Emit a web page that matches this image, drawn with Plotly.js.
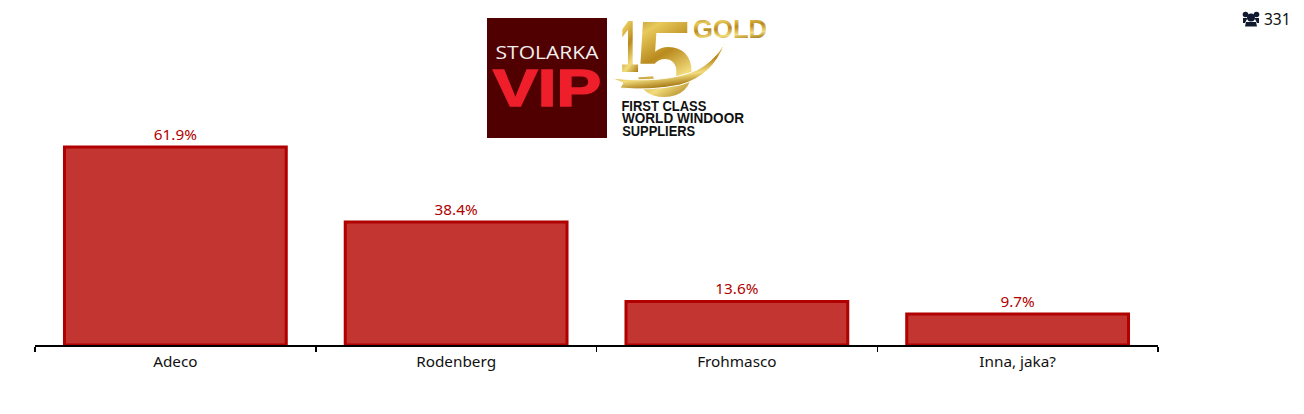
<!DOCTYPE html>
<html><head><meta charset="utf-8">
<script src="https://cdn.plot.ly/plotly-3.0.1.min.js"></script>
<style>html,body{margin:0;padding:0;background:#fff}#c{width:1304px;height:414px}</style>
</head><body><div id="c"></div>
<script>
const categories = ["Adeco", "Rodenberg", "Frohmasco", "Inna, jaka?"];
const percentages = [61.9, 38.4, 13.6, 9.7];
const percentLabels = ["61.9%", "38.4%", "13.6%", "9.7%"];
const voterCount = "331";

const FONT = "'Noto Sans', 'Open Sans', sans-serif";
const SANS = "'Liberation Sans', Arial, sans-serif";
const L = 35, R = 1158, T = 25, B = 345;
const px = x => (x - L) / (R - L);
const py = y => (B - y) / (B - T);
const P = (x, y) => px(x).toFixed(5) + "," + py(y).toFixed(5);
const poly = pts => "M" + pts.map(p => P(p[0], p[1])).join("L") + "Z";
const circle = (cx, cy, r, color) => ({type: "circle", xref: "paper", yref: "paper",
  x0: px(cx - r), x1: px(cx + r), y0: py(cy + r), y1: py(cy - r),
  fillcolor: color, line: {width: 0}});
const note = (text, x, y, size, color, family, weight, xanchor) => ({
  text, xref: "paper", yref: "paper", x: px(x), y: py(y), xanchor: xanchor || "center", yanchor: "middle",
  showarrow: false, font: {family: family || FONT, size, color, weight: weight || 400}});

const ICON = "#111a30";
const swoosh = {type: "path", xref: "paper", yref: "paper", fillcolor: "#c9a02a", layer: "above",
  line: {width: 1, color: "#ffffff"},
  path: "M" + P(611, 78) + "Q" + P(665, 84) + " " + P(697, 70) + "Q" + P(713, 62) + " " + P(725, 43)
      + "Q" + P(713, 76) + " " + P(680, 85) + "Q" + P(650, 91) + " " + P(620, 88) + "L" + P(623, 83) + "Z"};
const shapes = [
  {type: "rect", xref: "paper", yref: "paper", x0: px(487), x1: px(607), y0: py(138), y1: py(18),
   fillcolor: "#500000", line: {width: 0}, layer: "below"},
  swoosh,
  circle(1251, 17.5, 4, ICON), circle(1245.5, 14.5, 2.8, ICON), circle(1256.5, 14.5, 2.8, ICON),
  {type: "path", xref: "paper", yref: "paper", fillcolor: ICON, line: {width: 0},
   path: poly([[1246, 22], [1256, 22], [1257, 26.5], [1245, 26.5]])},
  {type: "path", xref: "paper", yref: "paper", fillcolor: ICON, line: {width: 0},
   path: poly([[1243, 18], [1247.5, 18], [1245, 23], [1243, 23]])},
  {type: "path", xref: "paper", yref: "paper", fillcolor: ICON, line: {width: 0},
   path: poly([[1254.5, 18], [1259, 18], [1259, 23], [1257, 23]])}
];

const annotations = [
  note("STOLARKA", 547, 52, 18, "#f2eeee", "'Open Sans', sans-serif"),
  note("VIP", 547, 88.5, 51, "#ee1f2b", SANS, 700),
  note("1", 629, 46, 74, "#c9a02a", SANS, 700),
  note("5", 665, 59, 107, "#c9a02a", SANS, 700),
  note("GOLD", 730, 29, 25, "#c9a02a", SANS, 700),
  note("FIRST CLASS", 616, 105.5, 14, "#111", SANS, 700, "left"),
  note("WORLD WINDOOR", 618, 118, 14, "#111", SANS, 700, "left"),
  note("SUPPLIERS", 617, 130.5, 14, "#111", SANS, 700, "left"),
  note(voterCount, 1277.5, 19, 15.5, "#111")
];

Plotly.newPlot("c", [{
  type: "bar",
  x: categories,
  y: percentages,
  text: percentLabels,
  textposition: "outside",
  cliponaxis: false,
  textfont: {family: FONT, size: 15.3, color: "#b00000"},
  marker: {color: "#c23530", line: {color: "#b00000", width: 3}},
  hoverinfo: "x+y"
}], {
  width: 1304, height: 414,
  margin: {l: L, r: 1304 - R, t: T, b: 414 - B, pad: 0},
  paper_bgcolor: "#fff", plot_bgcolor: "#fff",
  showlegend: false,
  bargap: 0.21,
  xaxis: {type: "category", range: [-0.5, 3.5], tickson: "boundaries", ticks: "outside", ticklen: 5,
    tickwidth: 1.5, tickcolor: "#000", showline: true, linecolor: "#000", linewidth: 1.5,
    showgrid: false, zeroline: false, fixedrange: true, ticklabelstandoff: 2,
    tickfont: {family: FONT, size: 15.3, color: "#111"}},
  yaxis: {range: [0, 100], visible: false, fixedrange: true},
  shapes, annotations
}, {displayModeBar: false, staticPlot: true}).then(gd => {
  const svg = gd.querySelector(".main-svg");
  const ns = "http://www.w3.org/2000/svg";
  const defs = svg.querySelector("defs");
  const g = document.createElementNS(ns, "linearGradient");
  g.setAttribute("id", "goldGrad");
  g.setAttribute("x1", "0"); g.setAttribute("y1", "0"); g.setAttribute("x2", "0.3"); g.setAttribute("y2", "1");
  [["0", "#8a6510"], ["0.3", "#e8c95a"], ["0.55", "#b98a1e"], ["0.8", "#f2dc7c"], ["1", "#a87c18"]].forEach(s => {
    const st = document.createElementNS(ns, "stop");
    st.setAttribute("offset", s[0]); st.setAttribute("stop-color", s[1]); g.appendChild(st);
  });
  defs.appendChild(g);
  const widths = {"STOLARKA": 103, "VIP": 108, "GOLD": 74, "FIRST CLASS": 85, "WORLD WINDOOR": 122, "SUPPLIERS": 73, "1": 19};
  gd.querySelectorAll(".annotation-text").forEach(t => {
    const s = t.textContent;
    if (widths[s]) {
      t.setAttribute("textLength", widths[s]);
      t.setAttribute("lengthAdjust", "spacingAndGlyphs");
    }
    if (["1", "5", "GOLD"].includes(s)) t.style.fill = "url(#goldGrad)";
    if (s === "VIP") { t.style.stroke = "#ee1f2b"; t.style.strokeWidth = "1.5px"; }
  });
  // the ribbon crosses in front of the "15"
  const ribbon = gd.querySelector(".layer-above .shapelayer path");
  const info = gd.querySelector(".infolayer");
  if (ribbon && info) { info.appendChild(ribbon); ribbon.style.fill = "url(#goldGrad)"; }
});
</script></body></html>
